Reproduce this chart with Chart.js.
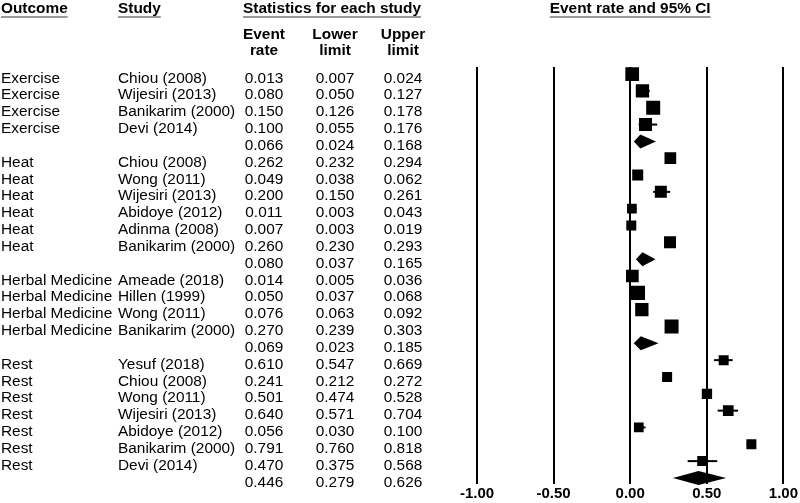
<!DOCTYPE html>
<html>
<head>
<meta charset="utf-8">
<script src="https://cdn.jsdelivr.net/npm/chart.js@4.4.0/dist/chart.umd.min.js"></script>
<style>
  body { margin: 0; background: #fff; }
  #wrap { position: relative; width: 800px; height: 503px; font-family: "Liberation Sans", Arial, sans-serif; font-size: 15.4px; color: #000; }
  #wrap canvas { position: absolute; left: 0; top: 0; }
  .t { position: absolute; white-space: nowrap; line-height: 15px; }
  .b { font-weight: bold; }
  .u { text-decoration: underline; text-decoration-color: #999; text-decoration-thickness: 2px; text-underline-offset: 3px; }
  .c { transform: translateX(-50%); }
</style>
</head>
<body>
<div id="wrap">
  <canvas id="forest" width="800" height="503"></canvas>
</div>
<script>
// rows of the table, top to bottom; summary rows have no outcome/study/weight
const outcome = ['Exercise','Exercise','Exercise','Exercise','',
  'Heat','Heat','Heat','Heat','Heat','Heat','',
  'Herbal Medicine','Herbal Medicine','Herbal Medicine','Herbal Medicine','',
  'Rest','Rest','Rest','Rest','Rest','Rest','Rest',''];
const study = ['Chiou (2008)','Wijesiri (2013)','Banikarim (2000)','Devi (2014)','',
  'Chiou (2008)','Wong (2011)','Wijesiri (2013)','Abidoye (2012)','Adinma (2008)','Banikarim (2000)','',
  'Ameade (2018)','Hillen (1999)','Wong (2011)','Banikarim (2000)','',
  'Yesuf (2018)','Chiou (2008)','Wong (2011)','Wijesiri (2013)','Abidoye (2012)','Banikarim (2000)','Devi (2014)',''];
const eventRate = [0.013,0.080,0.150,0.100,0.066,
  0.262,0.049,0.200,0.011,0.007,0.260,0.080,
  0.014,0.050,0.076,0.270,0.069,
  0.610,0.241,0.501,0.640,0.056,0.791,0.470,0.446];
const lowerLimit = [0.007,0.050,0.126,0.055,0.024,
  0.232,0.038,0.150,0.003,0.003,0.230,0.037,
  0.005,0.037,0.063,0.239,0.023,
  0.547,0.212,0.474,0.571,0.030,0.760,0.375,0.279];
const upperLimit = [0.024,0.127,0.178,0.176,0.168,
  0.294,0.062,0.261,0.043,0.019,0.293,0.165,
  0.036,0.068,0.092,0.303,0.185,
  0.669,0.272,0.528,0.704,0.100,0.818,0.568,0.626];
// relative study weight (drives box size); null = pooled estimate
const weight = [13.7,13.3,14,13,null,
  11.7,11,12,9.7,10,12,null,
  12.7,14.3,13.3,14,null,
  10,10,10.3,10.7,9.7,10,10,null];
const xTicks = [-1, -0.5, 0, 0.5, 1];

const boxes = [];
eventRate.forEach((v, i) => {
  if (weight[i]) boxes.push({ x: v, y: i, w: weight[i] });
});

// confidence interval lines and pooled diamonds
const ciPlugin = {
  id: 'ciLines',
  beforeDatasetsDraw(chart) {
    const c = chart.ctx;
    const sx = chart.scales.x, sy = chart.scales.y;
    c.save();
    c.fillStyle = '#000';
    c.strokeStyle = '#000';
    c.lineWidth = 2;
    eventRate.forEach((v, i) => {
      const py = sy.getPixelForValue(i);
      const lo = sx.getPixelForValue(lowerLimit[i]);
      const hi = sx.getPixelForValue(upperLimit[i]);
      const mid = sx.getPixelForValue(v);
      c.beginPath();
      if (weight[i]) {
        c.moveTo(lo, py);
        c.lineTo(hi, py);
        c.stroke();
      } else {
        c.moveTo(lo, py);
        c.lineTo(mid, py - 7);
        c.lineTo(hi, py);
        c.lineTo(mid, py + 7);
        c.closePath();
        c.fill();
      }
    });
    c.restore();
  }
};

const chart = new Chart(document.getElementById('forest'), {
  type: 'scatter',
  data: {
    datasets: [{
      data: boxes,
      pointStyle: 'rect',
      pointRadius: ctx => ctx.raw ? ctx.raw.w / Math.SQRT2 : 0,
      pointHoverRadius: ctx => ctx.raw ? ctx.raw.w / Math.SQRT2 : 0,
      backgroundColor: '#000',
      borderColor: '#000',
      borderWidth: 0
    }]
  },
  options: {
    responsive: false,
    animation: false,
    events: [],
    layout: { padding: { left: 477, right: 15, top: 67, bottom: 0 } },
    plugins: { legend: { display: false }, tooltip: { enabled: false } },
    scales: {
      x: {
        type: 'linear',
        min: xTicks[0],
        max: xTicks[xTicks.length - 1],
        afterBuildTicks: s => { s.ticks = xTicks.map(v => ({ value: v })); },
        grid: { color: '#000', lineWidth: 2, drawTicks: false },
        border: { display: false },
        ticks: {
          color: '#000',
          padding: 2,
          font: { family: "'Liberation Sans', Arial, sans-serif", size: 15, weight: 'bold', lineHeight: 1 },
          callback: v => v.toFixed(2)
        }
      },
      y: { type: 'linear', display: false, reverse: true, min: -0.42, max: 24.36 }
    }
  },
  plugins: [ciPlugin]
});

// table text, placed on the same rows as the y scale
const wrap = document.getElementById('wrap');
function addText(txt, left, baseline, cls) {
  const d = document.createElement('div');
  d.className = 't ' + (cls || '');
  d.textContent = txt;
  d.style.left = left + 'px';
  d.style.top = (baseline - 12.9) + 'px';
  wrap.appendChild(d);
}

addText('Outcome', 1, 13, 'b u');
addText('Study', 118, 13, 'b u');
addText('Statistics for each study', 332, 13, 'b u c');
addText('Event rate and 95% CI', chart.scales.x.getPixelForValue(0), 13, 'b u c');
addText('Event', 264, 39, 'b c');
addText('rate', 264, 55, 'b c');
addText('Lower', 335, 39, 'b c');
addText('limit', 335, 55, 'b c');
addText('Upper', 403, 39, 'b c');
addText('limit', 403, 55, 'b c');

eventRate.forEach((v, i) => {
  const base = chart.scales.y.getPixelForValue(i) + 8.5;
  if (outcome[i]) addText(outcome[i], 1, base);
  if (study[i]) addText(study[i], 118, base);
  addText(v.toFixed(3), 264, base, 'c');
  addText(lowerLimit[i].toFixed(3), 335, base, 'c');
  addText(upperLimit[i].toFixed(3), 403, base, 'c');
});
</script>
</body>
</html>
